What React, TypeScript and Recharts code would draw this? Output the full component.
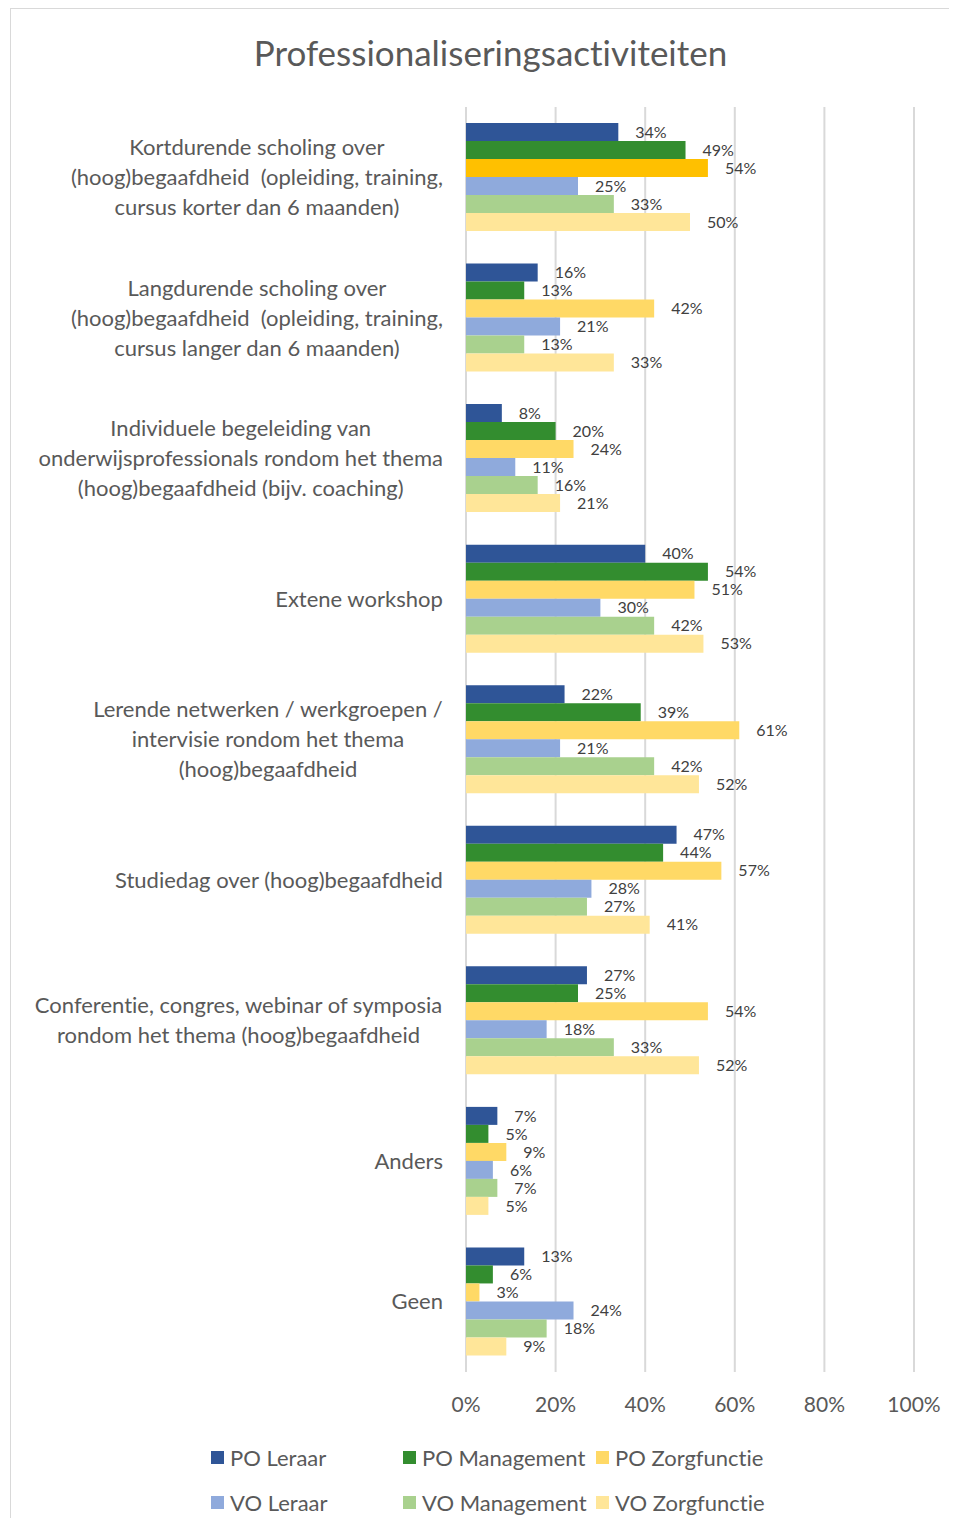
import { BarChart, Bar, XAxis, YAxis, CartesianGrid, LabelList, Cell } from "recharts";

const categories = [
  "Kortdurende scholing over\n(hoog)begaafdheid  (opleiding, training,\ncursus korter dan 6 maanden)",
  "Langdurende scholing over\n(hoog)begaafdheid  (opleiding, training,\ncursus langer dan 6 maanden)",
  "Individuele begeleiding van\nonderwijsprofessionals rondom het thema\n(hoog)begaafdheid (bijv. coaching)",
  "Extene workshop",
  "Lerende netwerken / werkgroepen /\nintervisie rondom het thema\n(hoog)begaafdheid",
  "Studiedag over (hoog)begaafdheid",
  "Conferentie, congres, webinar of symposia\nrondom het thema (hoog)begaafdheid",
  "Anders",
  "Geen",
];

const poLeraar = [34, 16, 8, 40, 22, 47, 27, 7, 13];
const poManagement = [49, 13, 20, 54, 39, 44, 25, 5, 6];
const poZorgfunctie = [54, 42, 24, 51, 61, 57, 54, 9, 3];
const voLeraar = [25, 21, 11, 30, 21, 28, 18, 6, 24];
const voManagement = [33, 13, 16, 42, 42, 27, 33, 7, 18];
const voZorgfunctie = [50, 33, 21, 53, 52, 41, 52, 5, 9];

const xTicks = [0, 20, 40, 60, 80, 100];

const series = [
  { key: "poLeraar", name: "PO Leraar", color: "#2F5597" },
  { key: "poManagement", name: "PO Management", color: "#338D2F" },
  { key: "poZorgfunctie", name: "PO Zorgfunctie", color: "#FFD966" },
  { key: "voLeraar", name: "VO Leraar", color: "#8FAADC" },
  { key: "voManagement", name: "VO Management", color: "#A9D18E" },
  { key: "voZorgfunctie", name: "VO Zorgfunctie", color: "#FFE699" },
];

const data = categories.map((name, i) => ({
  name,
  poLeraar: poLeraar[i],
  poManagement: poManagement[i],
  poZorgfunctie: poZorgfunctie[i],
  voLeraar: voLeraar[i],
  voManagement: voManagement[i],
  voZorgfunctie: voZorgfunctie[i],
}));

const FONT = "Lato, 'Open Sans', sans-serif";

let ctx: CanvasRenderingContext2D | null = null;
function textWidth(s: string, size: number) {
  if (!ctx) ctx = document.createElement("canvas").getContext("2d");
  if (!ctx) return s.length * size * 0.5;
  ctx.font = `${size}px Lato`;
  return ctx.measureText(s).width;
}

function CategoryTick(props: any) {
  const { x, y, payload } = props;
  const lines: string[] = String(payload.value).split("\n");
  const size = 22;
  const lh = 30;
  const right = x - 15;
  const w = Math.max(...lines.map((l) => textWidth(l, size)));
  const cx = right - w / 2;
  const startY = y - ((lines.length - 1) * lh) / 2;
  return (
    <text
      x={cx}
      y={startY}
      textAnchor="middle"
      fill="#595959"
      fontSize={size}
      fontFamily={FONT}
      style={{ whiteSpace: "pre" }}
    >
      {lines.map((l, i) => (
        <tspan key={i} x={cx} y={startY + i * lh} dy="0.35em">
          {l}
        </tspan>
      ))}
    </text>
  );
}

function Legend() {
  const cols = [200, 392, 585];
  const rows = [1436, 1481];
  return (
    <>
      {series.map((s, i) => (
        <div
          key={s.key}
          style={{
            position: "absolute",
            left: cols[i % 3],
            top: rows[Math.floor(i / 3)],
            height: 24,
            display: "flex",
            alignItems: "center",
            fontFamily: FONT,
            fontSize: 22,
            color: "#595959",
            whiteSpace: "nowrap",
          }}
        >
          <span style={{ width: 13, height: 13, background: s.color, marginRight: 6 }} />
          {s.name}
        </div>
      ))}
    </>
  );
}

export default function App() {
  return (
    <div
      style={{
        position: "relative",
        marginLeft: 2,
        width: 939,
        height: 1510,
        borderTop: "1px solid #D9D9D9",
        borderLeft: "1px solid #D9D9D9",
        boxSizing: "border-box",
        background: "#fff",
        fontVariantLigatures: "none",
      }}
    >
      <div
        style={{
          position: "absolute",
          left: 20,
          top: 26,
          width: 919,
          textAlign: "center",
          fontFamily: FONT,
          fontSize: 35,
          lineHeight: "35px",
          color: "#595959",
        }}
      >
        Professionaliseringsactiviteiten
      </div>
      <div style={{ position: "absolute", left: -1, top: -1 }}>
        <BarChart
          width={939}
          height={1420}
          data={data}
          layout="vertical"
          margin={{ top: 99, right: 35, left: 0, bottom: 0 }}
          barCategoryGap={16}
          barGap={0}
        >
          <CartesianGrid horizontal={false} stroke="#D9D9D9" strokeWidth={2} />
          <XAxis
            type="number"
            domain={[0, 100]}
            ticks={xTicks}
            tickFormatter={(v) => `${v}%`}
            axisLine={false}
            tickLine={false}
            height={56}
            tickMargin={19}
            tick={{ fill: "#595959", fontSize: 21, fontFamily: FONT }}
            interval={0}
          />
          <YAxis
            type="category"
            dataKey="name"
            width={456}
            axisLine={false}
            tickLine={false}
            tick={<CategoryTick />}
            interval={0}
          />
          {series.map((s) => (
            <Bar key={s.key} dataKey={s.key} name={s.name} fill={s.color} isAnimationActive={false}>
              {s.key === "poZorgfunctie" &&
                data.map((_, i) => <Cell key={i} fill={i === 0 ? "#FFC000" : s.color} />)}
              <LabelList
                dataKey={s.key}
                position="right"
                offset={17}
                formatter={(v: any) => `${v}%`}
                fill="#404040"
                fontSize={16}
                fontFamily={FONT}
              />
            </Bar>
          ))}
        </BarChart>
      </div>
      <Legend />
    </div>
  );
}
